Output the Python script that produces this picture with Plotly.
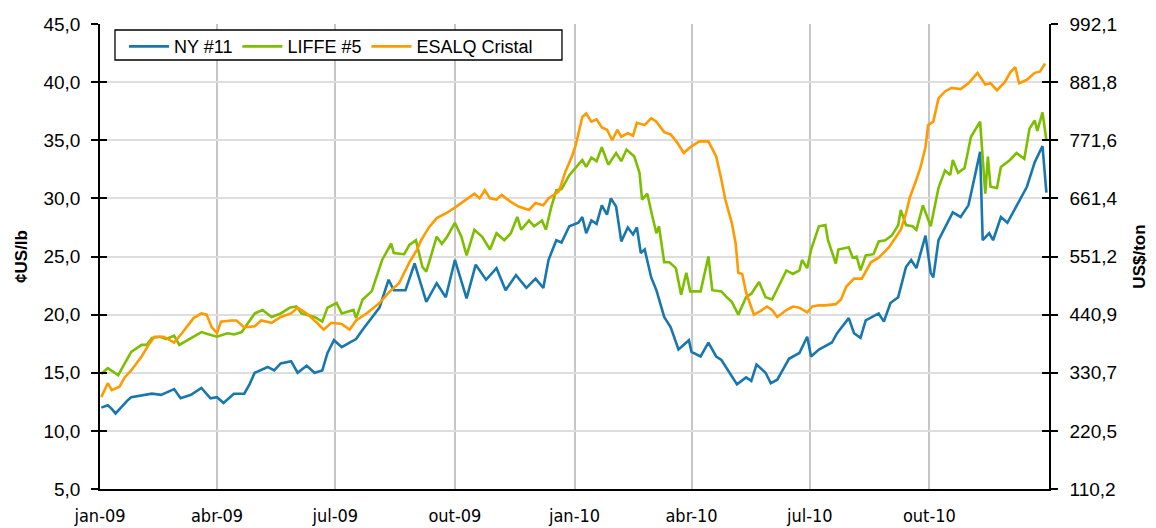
import plotly.graph_objects as go

# ---------------- data ----------------
NY_DATES = ["2009-01-02","2009-01-07","2009-01-10","2009-01-13","2009-01-22","2009-01-25","2009-02-10","2009-02-17","2009-02-27","2009-03-04",
"2009-03-12","2009-03-20","2009-03-27","2009-04-01","2009-04-06","2009-04-14","2009-04-22","2009-04-26","2009-04-30","2009-05-10",
"2009-05-15","2009-05-20","2009-05-28","2009-06-02","2009-06-09","2009-06-15","2009-06-21","2009-06-25","2009-06-30","2009-07-06",
"2009-07-12","2009-07-17","2009-07-22","2009-08-04","2009-08-11","2009-08-15","2009-08-24","2009-08-31","2009-09-09","2009-09-17",
"2009-09-24","2009-10-01","2009-10-10","2009-10-17","2009-10-25","2009-11-02","2009-11-09","2009-11-17","2009-11-25","2009-12-02",
"2009-12-08","2009-12-12","2009-12-18","2009-12-22","2009-12-28","2010-01-04","2010-01-07","2010-01-10","2010-01-14","2010-01-18",
"2010-01-22","2010-01-26","2010-01-29","2010-02-02","2010-02-06","2010-02-11","2010-02-15","2010-02-18","2010-02-21","2010-02-24",
"2010-03-01","2010-03-05","2010-03-11","2010-03-16","2010-03-22","2010-03-30","2010-04-01","2010-04-08","2010-04-14","2010-04-20",
"2010-04-24","2010-04-30","2010-05-06","2010-05-13","2010-05-17","2010-05-21","2010-05-28","2010-06-01","2010-06-06","2010-06-10",
"2010-06-15","2010-06-23","2010-06-29","2010-07-02","2010-07-08","2010-07-18","2010-07-22","2010-07-31","2010-08-04","2010-08-09",
"2010-08-13","2010-08-23","2010-08-27","2010-09-01","2010-09-07","2010-09-13","2010-09-17","2010-09-21","2010-09-28","2010-10-02",
"2010-10-04","2010-10-08","2010-10-13","2010-10-19","2010-10-25","2010-10-31","2010-11-02","2010-11-09","2010-11-11","2010-11-16",
"2010-11-19","2010-11-25","2010-11-30","2010-12-07","2010-12-15","2010-12-21","2010-12-27","2010-12-30"]
NY_VALUES = [12.0,12.2,11.9,11.5,12.6,12.9,13.2,13.1,13.6,12.8,
13.1,13.7,12.8,12.9,12.4,13.2,13.2,14.0,15.0,15.5,
15.2,15.8,16.0,15.0,15.6,15.0,15.2,16.7,17.8,17.2,
17.6,17.9,18.7,20.6,23.0,22.1,22.1,24.4,21.1,22.7,
21.5,24.7,21.4,24.3,23.0,24.0,22.1,23.4,22.3,23.1,
22.3,24.7,26.4,26.2,27.6,27.9,28.4,27.0,28.1,27.8,
29.4,28.6,30.0,29.3,26.3,27.5,26.9,27.5,25.3,25.6,
23.2,22.1,19.8,18.9,17.0,17.8,16.8,16.4,17.6,16.4,
16.1,15.1,14.0,14.6,14.3,15.7,15.0,14.1,14.4,15.2,
16.2,16.7,18.1,16.4,17.0,17.6,18.4,19.7,18.4,18.0,
19.5,20.1,19.4,21.0,21.5,24.1,24.7,24.0,26.8,23.6,
23.2,26.4,27.5,28.8,28.4,29.4,30.4,34.0,26.4,27.0,
26.4,28.4,27.9,29.3,31.0,33.1,34.5,30.5]

LIFFE_DATES = ["2009-01-02","2009-01-07","2009-01-15","2009-01-20","2009-01-25","2009-02-02","2009-02-06","2009-02-10","2009-02-16","2009-02-21",
"2009-02-27","2009-03-03","2009-03-12","2009-03-20","2009-03-26","2009-04-01","2009-04-09","2009-04-14","2009-04-20","2009-04-24",
"2009-04-30","2009-05-06","2009-05-13","2009-05-20","2009-05-27","2009-06-01","2009-06-05","2009-06-15","2009-06-21","2009-06-25",
"2009-07-02","2009-07-06","2009-07-15","2009-07-17","2009-07-22","2009-07-29","2009-08-06","2009-08-13","2009-08-15","2009-08-23",
"2009-08-27","2009-09-01","2009-09-06","2009-09-09","2009-09-17","2009-09-21","2009-09-25","2009-10-01","2009-10-06","2009-10-10",
"2009-10-16","2009-10-22","2009-10-28","2009-11-02","2009-11-08","2009-11-13","2009-11-18","2009-11-21","2009-11-27","2009-12-01",
"2009-12-07","2009-12-10","2009-12-14","2009-12-18","2009-12-22","2009-12-28","2010-01-02","2010-01-07","2010-01-10","2010-01-14",
"2010-01-18","2010-01-22","2010-01-27","2010-02-02","2010-02-06","2010-02-10","2010-02-16","2010-02-20","2010-02-22","2010-02-26",
"2010-03-02","2010-03-05","2010-03-07","2010-03-11","2010-03-15","2010-03-20","2010-03-24","2010-03-28","2010-03-31","2010-04-08",
"2010-04-14","2010-04-17","2010-04-24","2010-04-28","2010-05-02","2010-05-07","2010-05-13","2010-05-17","2010-05-23","2010-05-28",
"2010-06-02","2010-06-07","2010-06-13","2010-06-18","2010-06-23","2010-06-25","2010-06-29","2010-07-02","2010-07-08","2010-07-13",
"2010-07-15","2010-07-21","2010-07-23","2010-07-31","2010-08-03","2010-08-06","2010-08-09","2010-08-13","2010-08-19","2010-08-23",
"2010-08-28","2010-09-02","2010-09-07","2010-09-09","2010-09-13","2010-09-18","2010-09-21","2010-09-26","2010-10-02","2010-10-08",
"2010-10-13","2010-10-17","2010-10-19","2010-10-23","2010-10-28","2010-11-02","2010-11-09","2010-11-13","2010-11-15","2010-11-17",
"2010-11-22","2010-11-25","2010-12-02","2010-12-07","2010-12-13","2010-12-17","2010-12-21","2010-12-23","2010-12-27","2010-12-30"]
LIFFE_VALUES = [14.9,15.4,14.8,15.8,16.8,17.4,17.4,18.0,18.1,17.9,
18.2,17.4,18.0,18.5,18.3,18.1,18.4,18.3,18.5,19.1,
20.1,20.4,19.8,20.1,20.6,20.7,20.1,19.8,19.4,20.6,
21.0,20.1,20.4,19.7,21.3,22.0,24.7,26.1,25.3,25.2,
26.0,26.4,24.1,23.7,26.7,26.1,26.7,27.9,26.7,25.1,
27.3,26.7,25.6,27.0,26.4,27.0,28.4,27.3,28.1,27.6,
28.1,27.3,29.2,30.7,30.8,32.0,32.7,33.3,32.7,33.5,
33.2,34.4,32.9,33.9,33.2,34.2,33.6,32.2,29.9,30.4,
28.4,27.0,27.6,24.5,24.5,24.0,21.7,23.6,22.0,22.0,
25.0,22.1,22.0,21.5,21.1,20.0,21.5,21.8,22.8,21.5,
21.3,22.4,23.8,23.5,23.8,24.7,24.0,25.6,27.6,27.7,
26.4,24.4,25.6,25.8,24.9,25.0,23.8,25.1,25.2,26.3,
26.4,26.8,27.7,29.0,27.7,27.6,27.3,29.4,27.6,30.9,
32.4,32.0,33.3,32.2,32.6,35.3,36.6,30.4,33.6,31.0,
30.9,32.7,33.3,33.9,33.4,36.0,36.7,35.8,37.4,35.0]

ESALQ_DATES = ["2009-01-02","2009-01-07","2009-01-10","2009-01-16","2009-01-20","2009-01-25","2009-02-02","2009-02-08","2009-02-12","2009-02-19",
"2009-02-27","2009-03-05","2009-03-14","2009-03-20","2009-03-24","2009-03-28","2009-04-01","2009-04-04","2009-04-12","2009-04-16",
"2009-04-22","2009-04-30","2009-05-05","2009-05-13","2009-05-20","2009-05-28","2009-06-02","2009-06-09","2009-06-17","2009-06-22",
"2009-06-28","2009-07-06","2009-07-12","2009-07-17","2009-07-25","2009-08-04","2009-08-11","2009-08-19","2009-08-27","2009-09-02",
"2009-09-05","2009-09-11","2009-09-17","2009-09-24","2009-10-01","2009-10-10","2009-10-16","2009-10-20","2009-10-24","2009-10-28",
"2009-11-02","2009-11-06","2009-11-13","2009-11-19","2009-11-27","2009-12-02","2009-12-08","2009-12-12","2009-12-20","2009-12-25",
"2009-12-30","2010-01-02","2010-01-07","2010-01-10","2010-01-14","2010-01-18","2010-01-22","2010-01-26","2010-01-30","2010-02-03",
"2010-02-06","2010-02-11","2010-02-15","2010-02-18","2010-02-24","2010-03-01","2010-03-05","2010-03-11","2010-03-16","2010-03-21",
"2010-03-26","2010-03-31","2010-04-07","2010-04-14","2010-04-20","2010-04-24","2010-04-27","2010-05-02","2010-05-05","2010-05-07",
"2010-05-10","2010-05-13","2010-05-19","2010-05-24","2010-05-29","2010-06-02","2010-06-06","2010-06-13","2010-06-18","2010-06-23",
"2010-06-29","2010-07-03","2010-07-08","2010-07-13","2010-07-21","2010-07-25","2010-07-29","2010-08-04","2010-08-10","2010-08-17",
"2010-08-23","2010-08-31","2010-09-05","2010-09-09","2010-09-13","2010-09-16","2010-09-20","2010-09-24","2010-09-28","2010-09-30",
"2010-10-04","2010-10-08","2010-10-13","2010-10-18","2010-10-25","2010-10-31","2010-11-07","2010-11-13","2010-11-17","2010-11-22",
"2010-11-28","2010-12-02","2010-12-06","2010-12-09","2010-12-15","2010-12-21","2010-12-25","2010-12-29"]
ESALQ_VALUES = [12.9,14.1,13.5,13.8,14.6,15.2,16.4,17.5,18.1,18.1,
17.6,18.4,19.7,20.1,20.0,18.9,18.4,19.4,19.5,19.5,
18.9,19.0,19.5,19.3,19.8,20.1,20.6,20.1,19.3,18.7,
19.3,19.2,18.7,19.5,20.1,21.0,21.9,22.7,24.5,25.6,
26.4,27.5,28.3,28.7,29.2,29.9,30.4,30.0,30.7,30.0,
29.9,30.3,29.7,29.3,29.0,29.6,29.4,30.0,30.6,32.3,
33.6,34.6,37.0,37.3,36.6,36.8,36.1,35.9,35.0,35.9,
35.3,35.6,35.4,36.5,36.3,36.9,36.6,35.7,35.5,34.8,
33.9,34.4,34.9,34.9,33.6,31.6,29.9,27.9,26.1,23.6,
23.5,21.9,20.0,20.3,20.7,20.4,19.8,20.4,20.7,20.6,
20.2,20.7,20.8,20.8,20.9,21.3,22.4,23.1,23.1,24.5,
24.9,25.8,26.7,27.3,28.7,30.1,31.3,32.6,34.4,36.3,
36.6,38.6,39.2,39.5,39.4,39.9,40.8,39.8,39.9,39.3,
40.0,40.8,41.3,39.9,40.2,40.8,40.9,41.6]

SERIES_NAMES = ["NY #11", "LIFFE #5", "ESALQ Cristal"]
SERIES_COLORS = ["#1878AE", "#7DBE00", "#FF9A00"]

X_TICK_DATES = ["2009-01-01","2009-04-01","2009-07-01","2009-10-01","2010-01-01","2010-04-01","2010-07-01","2010-10-01"]
X_TICK_LABELS = ["jan-09","abr-09","jul-09","out-09","jan-10","abr-10","jul-10","out-10"]
X_RANGE = ["2009-01-01", "2011-01-01"]
LEFT_TICKS = [5, 10, 15, 20, 25, 30, 35, 40, 45]
RIGHT_TICK_LABELS = ["110,2","220,5","330,7","440,9","551,2","661,4","771,6","881,8","992,1"]

# ---------------- figure ----------------
FONT = "Liberation Sans, Arial, sans-serif"
NARROW = "Liberation Sans Narrow, DejaVu Sans Condensed, Arial Narrow, sans-serif"
fig = go.Figure()
for dates, vals, name, col in zip([NY_DATES, LIFFE_DATES, ESALQ_DATES],
                                  [NY_VALUES, LIFFE_VALUES, ESALQ_VALUES],
                                  SERIES_NAMES, SERIES_COLORS):
    fig.add_trace(go.Scatter(x=dates, y=vals, name=name, mode="lines",
                             line=dict(color=col, width=2.6)))

# dummy traces so the secondary axes are drawn
for ax in ["y2", "y3", "y4"]:
    fig.add_trace(go.Scatter(x=[X_TICK_DATES[0]], y=[None], yaxis=ax, showlegend=False,
                             mode="lines", hoverinfo="skip"))

yrange = [LEFT_TICKS[0], LEFT_TICKS[-1]]
axis_common = dict(automargin=False, zeroline=False)
# the page body has an 8px margin, so the figure is sized 8px smaller on each axis
fig.update_layout(
    width=1148, height=520,
    margin=dict(l=92, r=107, t=16, b=39, autoexpand=False),
    paper_bgcolor="white", plot_bgcolor="white",
    separators=",.",
    font=dict(family=FONT, size=19, color="#000000"),
    showlegend=True,
    legend=dict(orientation="h", x=0.0253, y=0.991, xanchor="left", yanchor="top",
                bgcolor="rgba(0,0,0,0)", borderwidth=0,
                font=dict(size=18, family=FONT), traceorder="normal",
                itemwidth=40),
    xaxis=dict(type="date", range=X_RANGE,
               tickvals=X_TICK_DATES, ticktext=X_TICK_LABELS,
               tickfont=dict(family=NARROW, size=18),
               showgrid=True, gridcolor="#c6c6c6", gridwidth=1.6,
               ticks="", showline=True, linecolor="black", linewidth=1.5,
               ticklabelstandoff=10, **axis_common),
    yaxis=dict(range=yrange, tickvals=LEFT_TICKS, tickformat=".1f",
               showgrid=True, gridcolor="#dedede", gridwidth=1.5,
               ticks="outside", ticklen=7, tickwidth=1.5, tickcolor="black",
               ticklabelstandoff=7,
               showline=True, linecolor="black", linewidth=1.5,
               title=dict(text="<b>¢US/lb</b>", font=dict(size=17), standoff=12), **axis_common),
    yaxis2=dict(range=yrange, overlaying="y", side="right", anchor="x",
                tickvals=LEFT_TICKS, ticktext=RIGHT_TICK_LABELS,
                showgrid=False, ticks="outside", ticklen=7, tickwidth=1.5, tickcolor="black",
                ticklabelstandoff=8,
                showline=True, linecolor="black", linewidth=1.5,
                title=dict(text="<b>US$/ton</b>", font=dict(size=17), standoff=17), **axis_common),
    yaxis3=dict(range=yrange, overlaying="y", side="left", anchor="x",
                tickvals=LEFT_TICKS, showticklabels=False, showgrid=False,
                ticks="inside", ticklen=7, tickwidth=1.5, tickcolor="black", **axis_common),
    yaxis4=dict(range=yrange, overlaying="y", side="right", anchor="x",
                tickvals=LEFT_TICKS, showticklabels=False, showgrid=False,
                ticks="inside", ticklen=7, tickwidth=1.5, tickcolor="black", **axis_common),
)

# legend frame (white box with black border)
fig.add_shape(type="rect", xref="paper", yref="paper",
              x0=0.0158, x1=0.4868, y0=0.9226, y1=0.9871,
              line=dict(color="black", width=1.3), fillcolor="white", layer="above")

fig.write_html("out.html")
